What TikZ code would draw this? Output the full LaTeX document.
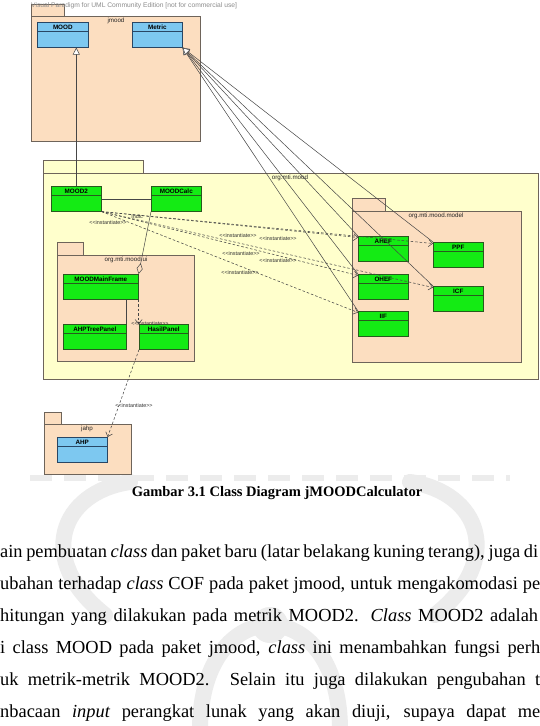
\documentclass[tikz,border=0pt]{standalone}
\usepackage{fontspec}
\setmainfont{Liberation Serif}
\newfontfamily\vpfont{Liberation Sans}
\usetikzlibrary{arrows.meta}
\definecolor{pkgpeach}{RGB}{252,222,192}
\definecolor{pkgyellow}{RGB}{255,255,204}
\definecolor{clsgreen}{RGB}{20,235,20}
\definecolor{clsblue}{RGB}{125,200,240}
\definecolor{pkgline}{RGB}{110,100,90}
\definecolor{clsgline}{RGB}{40,90,30}
\definecolor{clsbline}{RGB}{40,70,100}
\definecolor{conn}{RGB}{70,70,70}
\definecolor{wmark}{RGB}{236,236,236}
\newcommand{\umlclass}[6]{%
  \node[cls, minimum width=#3, fill=#4, draw=#5] (#1) at (#2) {};
  \draw[draw=#5, line width=0.6pt] ([yshift=-9.5pt]#1.north west) -- ([yshift=-9.5pt]#1.north east);
  \node[clsname] (#1-name) at ([yshift=-5pt]#1.north) {#6};
}
\begin{document}
\begin{tikzpicture}[x=1pt,y=-1pt,
  pkg/.style={draw=pkgline, line width=0.6pt},
  cls/.style={line width=0.6pt, minimum height=25pt, anchor=north west, inner sep=0pt},
  clsname/.style={font=\vpfont\bfseries\fontsize{6.3}{7}\selectfont, inner sep=0pt},
  pkglabel/.style={font=\vpfont\fontsize{6.2}{7}\selectfont, inner sep=0pt, text=black!85},
  stereo/.style={font=\vpfont\fontsize{5.4}{6}\selectfont, inner sep=0pt, text=black!80},
  gen/.style={draw=conn, line width=0.5pt, -{Triangle[open, length=7pt, width=7pt, fill=white]}},
  inst/.style={draw=conn, line width=0.55pt, dash pattern=on 2.5pt off 2pt, -{Straight Barb[length=4pt, width=7pt]}},
  assoc/.style={draw=conn, line width=0.5pt},
  agg/.style={draw=conn, line width=0.5pt, -{Diamond[open, length=11pt, width=6pt]}},
  bodytext/.style={font=\fontsize{18.4}{22}\selectfont, inner sep=0pt, anchor=base west},
  wm/.style={draw=wmark, line width=16pt, line cap=round},
]
\useasboundingbox (0,0) rectangle (540,726);
\fill[white] (0,0) rectangle (540,726);

% faint scanned watermark behind the text
\begin{scope}
\clip (0,470) rectangle (540,726);
\draw[wm] (130,482) .. controls (60,492) and (35,560) .. (105,615);
\draw[wm] (410,482) .. controls (480,492) and (505,560) .. (435,615);
\draw[wm] (200,730) .. controls (200,590) and (340,590) .. (340,730);
\fill[wmark] (270,625) circle (18);
\draw[wmark, line width=6pt, dash pattern=on 22pt off 12pt] (30,478) -- (510,478);
\end{scope}

% packages
\filldraw[pkg, fill=pkgpeach] (31,4) rectangle (64,16);
\filldraw[pkg, fill=pkgpeach] (31,16) rectangle (200,141);
\node[pkglabel] (jmoodlbl) at (116,21) {jmood};

\filldraw[pkg, fill=pkgyellow] (43,160) rectangle (143,173);
\filldraw[pkg, fill=pkgyellow] (43,173) rectangle (538,379);
\node[pkglabel] (moodlbl) at (290,178) {org.mti.mood};

\filldraw[pkg, fill=pkgpeach] (57,242) rectangle (83,255);
\filldraw[pkg, fill=pkgpeach] (57,255) rectangle (194,361);
\node[pkglabel] (uilbl) at (126,260) {org.mti.mood.ui};

\filldraw[pkg, fill=pkgpeach] (352,198) rectangle (385,211);
\filldraw[pkg, fill=pkgpeach] (352,211) rectangle (521,362);
\node[pkglabel] (modellbl) at (436,216) {org.mti.mood.model};

\filldraw[pkg, fill=pkgpeach] (44,412) rectangle (61,424);
\filldraw[pkg, fill=pkgpeach] (44,424) rectangle (131,474);
\node[pkglabel] (jahplbl) at (87,429) {jahp};

\node[font=\vpfont\fontsize{6.7}{8}\selectfont, text=black!45, anchor=west, inner sep=0pt] (vphead) at (31,6) {Visual Paradigm for UML Community Edition [not for commercial use]};

% classes
\umlclass{MOOD}{37,22}{51pt}{clsblue}{clsbline}{MOOD}
\umlclass{Metric}{132,22}{50pt}{clsblue}{clsbline}{Metric}
\umlclass{MOOD2}{51,186}{50pt}{clsgreen}{clsgline}{MOOD2}
\umlclass{MOODCalc}{151,186}{50pt}{clsgreen}{clsgline}{MOODCalc}
\umlclass{MainFrame}{63,274}{75pt}{clsgreen}{clsgline}{MOODMainFrame}
\umlclass{TreePanel}{63,324}{63pt}{clsgreen}{clsgline}{AHPTreePanel}
\umlclass{Hasil}{139,324}{49pt}{clsgreen}{clsgline}{HasilPanel}
\umlclass{AHEF}{358,236}{50pt}{clsgreen}{clsgline}{AHEF}
\umlclass{OHEF}{358,274}{50pt}{clsgreen}{clsgline}{OHEF}
\umlclass{IIF}{358,311}{50pt}{clsgreen}{clsgline}{IIF}
\umlclass{PPF}{433,242}{50pt}{clsgreen}{clsgline}{PPF}
\umlclass{ICF}{433,286}{50pt}{clsgreen}{clsgline}{ICF}
\umlclass{AHP}{57,437}{50pt}{clsblue}{clsbline}{AHP}

% generalizations
\draw[gen] (MOOD2.north) -- (MOOD2.north |- MOOD.south);
\foreach \t in {AHEF,OHEF,IIF,PPF,ICF}
  \draw[gen] (\t.north west) -- (Metric.south east);

% associations
\draw[assoc] (MOOD2.east) -- (MOODCalc.west);
\draw[agg] (MOODCalc.south west) -- (MainFrame.north east);
\draw[assoc] (MainFrame.south -| TreePanel.north east) -- (TreePanel.north east);

% instantiate dependencies
\foreach \t in {AHEF,OHEF,IIF,PPF,ICF}
  \draw[inst] (MOOD2.south east) -- ([yshift=-1.5pt]\t.north west);
\draw[inst] (MainFrame.south east) -- (MainFrame.south east |- Hasil.north);
\draw[inst] (Hasil.south west) -- (AHP.north east);

\node[stereo] (s1) at (108,223) {<{}<instantiate>{}>};
\node[stereo] (s2) at (238,236) {<{}<instantiate>{}>};
\node[stereo] (s3) at (278,239) {<{}<instantiate>{}>};
\node[stereo] (s4) at (241,254) {<{}<instantiate>{}>};
\node[stereo] (s5) at (278,261) {<{}<instantiate>{}>};
\node[stereo] (s6) at (240,273) {<{}<instantiate>{}>};
\node[stereo] (s7) at (137,217) {Indic};
\node[stereo] (s8) at (150,324) {<{}<instantiate>{}>};
\node[stereo] (s9) at (134,406) {<{}<instantiate>{}>};

% caption and body text
\node[font=\bfseries\fontsize{14.5}{17}\selectfont, inner sep=0pt] (caption) at (277,493) {Gambar 3.1 Class Diagram jMOODCalculator};
\node[bodytext] (l1) at (0,557) {\makebox[538pt][s]{ain pembuatan \textit{class} dan paket baru (latar belakang kuning terang), juga di}};
\node[bodytext] (l2) at (0,589) {\makebox[540pt][s]{ubahan terhadap \textit{class} COF pada paket jmood, untuk mengakomodasi pe}};
\node[bodytext] (l3) at (0,621) {\makebox[538pt][s]{hitungan yang dilakukan pada metrik MOOD2. \textit{Class} MOOD2 adalah}};
\node[bodytext] (l4) at (0,653) {\makebox[540pt][s]{i class MOOD pada paket jmood, \textit{class} ini menambahkan fungsi perh}};
\node[bodytext] (l5) at (0,685) {\makebox[540pt][s]{uk metrik-metrik MOOD2. Selain itu juga dilakukan pengubahan t}};
\node[bodytext] (l6) at (0,717) {\makebox[540pt][s]{nbacaan \textit{input} perangkat lunak yang akan diuji, supaya dapat me}};
\end{tikzpicture}
\end{document}
